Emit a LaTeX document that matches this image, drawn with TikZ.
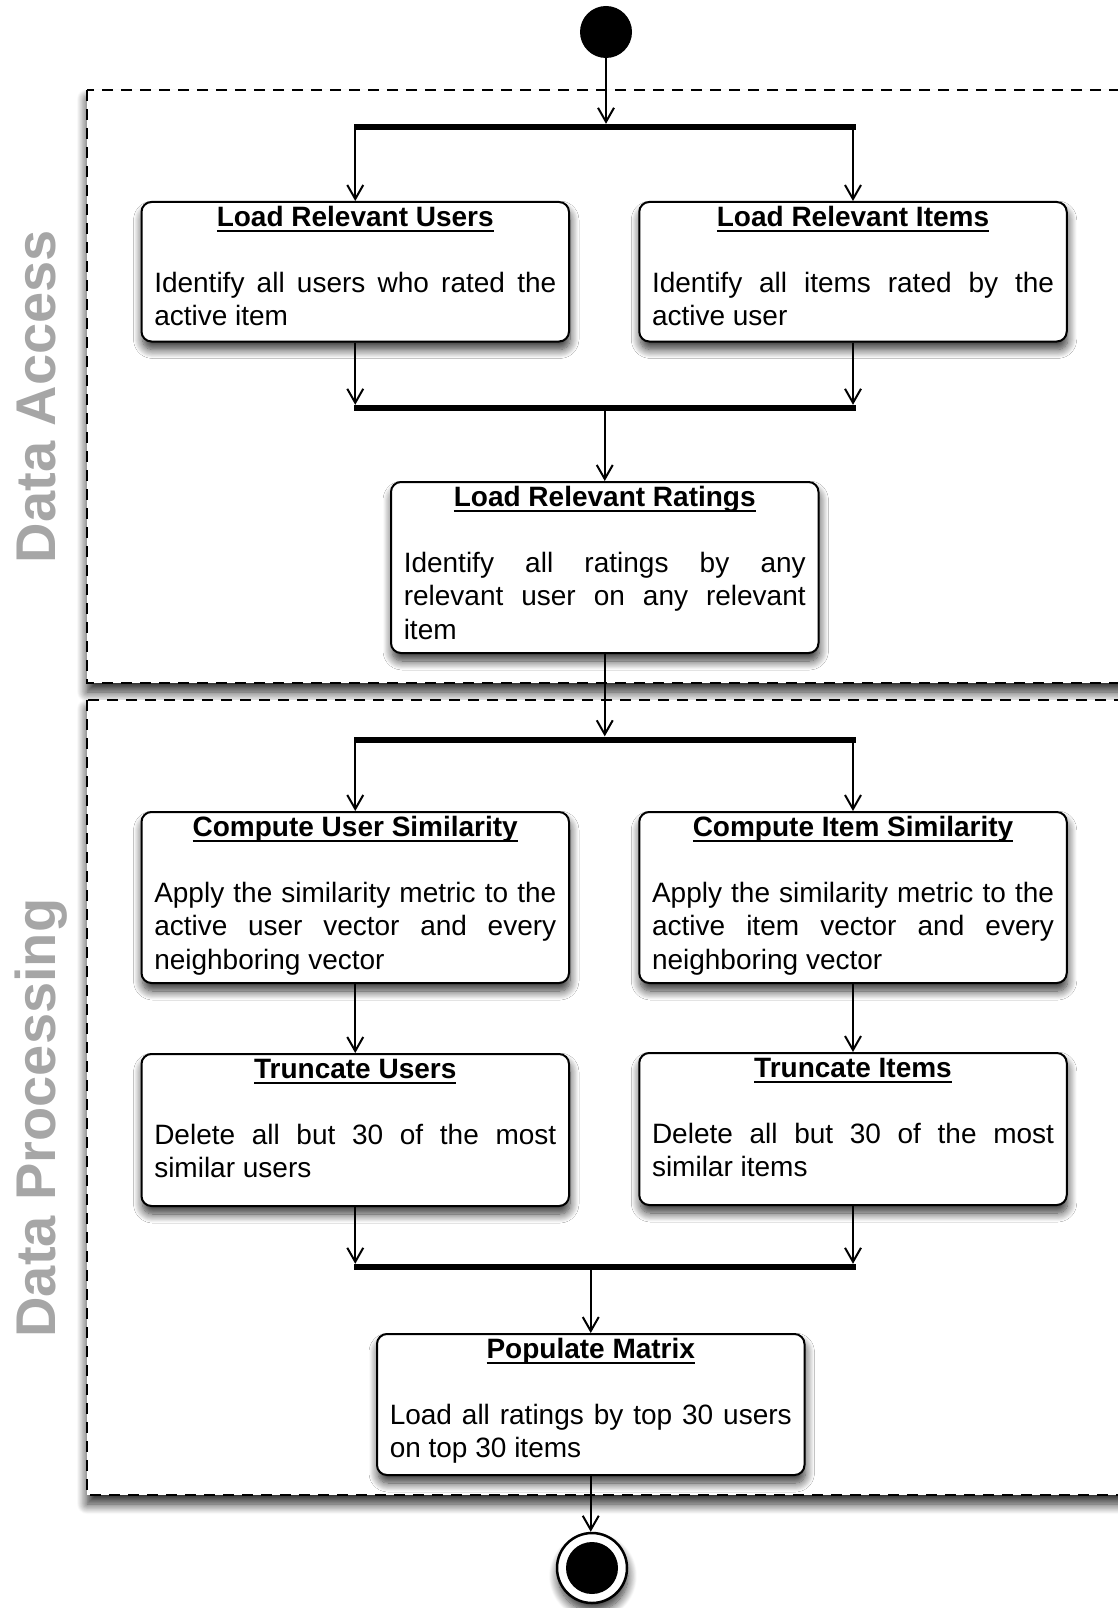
\documentclass[tikz,border=0pt]{standalone}
\usepackage{fontspec}
\setmainfont{Liberation Sans}
\usetikzlibrary{arrows.meta,shadows.blur}
\setlength{\parindent}{0pt}
\definecolor{lanegray}{RGB}{166,166,166}
% underlined bold heading of an activity
\newcommand{\titleul}[1]{\vtop{\hbox{\raisebox{0pt}[\height][0pt]{\bfseries #1}}\kern3.5pt\hrule height 2.5pt}}
% activity content: fixed height, heading, blank line, justified description
\newcommand{\actbody}[3]{\parbox[c][#1][t]{402pt}{{\centering\rule{0pt}{24pt}\titleul{#2}\par}\vspace{33.3pt}#3\par}}
\hbadness=10000
\begin{document}
\begin{tikzpicture}[x=1pt,y=-1pt,
  softshadow/.style={blur shadow={shadow xshift=1pt, shadow yshift=-8pt, shadow blur radius=9pt, shadow opacity=80, shadow blur steps=12}},
  actbox/.style={draw, line width=2pt, rounded corners=10pt, fill=white,
    inner xsep=12.75pt, inner ysep=0pt, anchor=north,
    font=\fontsize{28}{33.3}\selectfont, softshadow},
  bar/.style={fill=black, inner sep=0pt, minimum width=502pt, minimum height=6pt},
  flow/.style={line width=2pt, -{Straight Barb[length=14pt,width=16pt]}},
  lane/.style={draw, fill=white, line width=2pt, dash pattern=on 11pt off 8pt,
    blur shadow={shadow xshift=0pt, shadow yshift=-9pt, shadow blur radius=10pt, shadow opacity=85, shadow blur steps=12}},
  lanelabel/.style={text=lanegray, font=\fontsize{56}{60}\selectfont\bfseries,
    rotate=90, anchor=base, inner sep=0pt}]
\useasboundingbox (0,0) rectangle (1118,1608);

% swimlanes
\path[lane] (87,90) rectangle (1160,683);
\path[lane] (87,700) rectangle (1160,1495);
\node[lanelabel] (laneA) at (55,396.5) {Data Access};
\node[lanelabel] (laneB) at (55,1118) {Data Processing};

% initial and final states
\node[circle, fill=black, minimum size=52pt, inner sep=0pt] (start) at (606,32) {};
\node[circle, draw, line width=2.5pt, fill=white, minimum size=70pt, inner sep=0pt, softshadow] (end) at (592,1568) {};
\node[circle, fill=black, minimum size=52pt, inner sep=0pt] (endin) at (end.center) {};

% fork / join bars
\node[bar] (fork1) at (605.25,127) {};
\node[bar] (join1) at (605.25,408) {};
\node[bar] (fork2) at (605.25,739.5) {};
\node[bar] (join2) at (605.25,1267) {};

% activities
\node[actbox] (users) at (355.25,201) {\actbody{139.5pt}{Load Relevant Users}{Identify all users who rated the\linebreak active item}};
\node[actbox] (items) at (853,201) {\actbody{139.5pt}{Load Relevant Items}{Identify all items rated by the\linebreak active user}};
\node[actbox] (ratings) at (604.75,481) {\actbody{171pt}{Load Relevant Ratings}{Identify all ratings by any\linebreak relevant user on any relevant\linebreak item}};
\node[actbox] (usim) at (355.25,811) {\actbody{171pt}{Compute User Similarity}{Apply the similarity metric to the\linebreak active user vector and every\linebreak neighboring vector}};
\node[actbox] (isim) at (853,811) {\actbody{171pt}{Compute Item Similarity}{Apply the similarity metric to the\linebreak active item vector and every\linebreak neighboring vector}};
\node[actbox] (utrunc) at (355.25,1053) {\actbody{152pt}{Truncate Users}{Delete all but 30 of the most\linebreak similar users}};
\node[actbox] (itrunc) at (853,1052) {\actbody{152pt}{Truncate Items}{Delete all but 30 of the most\linebreak similar items}};
\node[actbox] (matrix) at (590.75,1333) {\actbody{141pt}{Populate Matrix}{Load all ratings by top 30 users\linebreak on top 30 items}};

% control flow
\draw[flow] (start.south) -- (start.south |- fork1.north);
\draw[flow] (users.north |- fork1.south) -- (users.north);
\draw[flow] (items.north |- fork1.south) -- (items.north);
\draw[flow] (users.south) -- (users.south |- join1.north);
\draw[flow] (items.south) -- (items.south |- join1.north);
\draw[flow] (ratings.north |- join1.south) -- (ratings.north);
\draw[flow] (ratings.south) -- (ratings.south |- fork2.north);
\draw[flow] (usim.north |- fork2.south) -- (usim.north);
\draw[flow] (isim.north |- fork2.south) -- (isim.north);
\draw[flow] (usim.south) -- (utrunc.north);
\draw[flow] (isim.south) -- (itrunc.north);
\draw[flow] (utrunc.south) -- (utrunc.south |- join2.north);
\draw[flow] (itrunc.south) -- (itrunc.south |- join2.north);
\draw[flow] (matrix.north |- join2.south) -- (matrix.north);
\draw[flow] (matrix.south) -- (matrix.south |- end.north);
\end{tikzpicture}
\end{document}
